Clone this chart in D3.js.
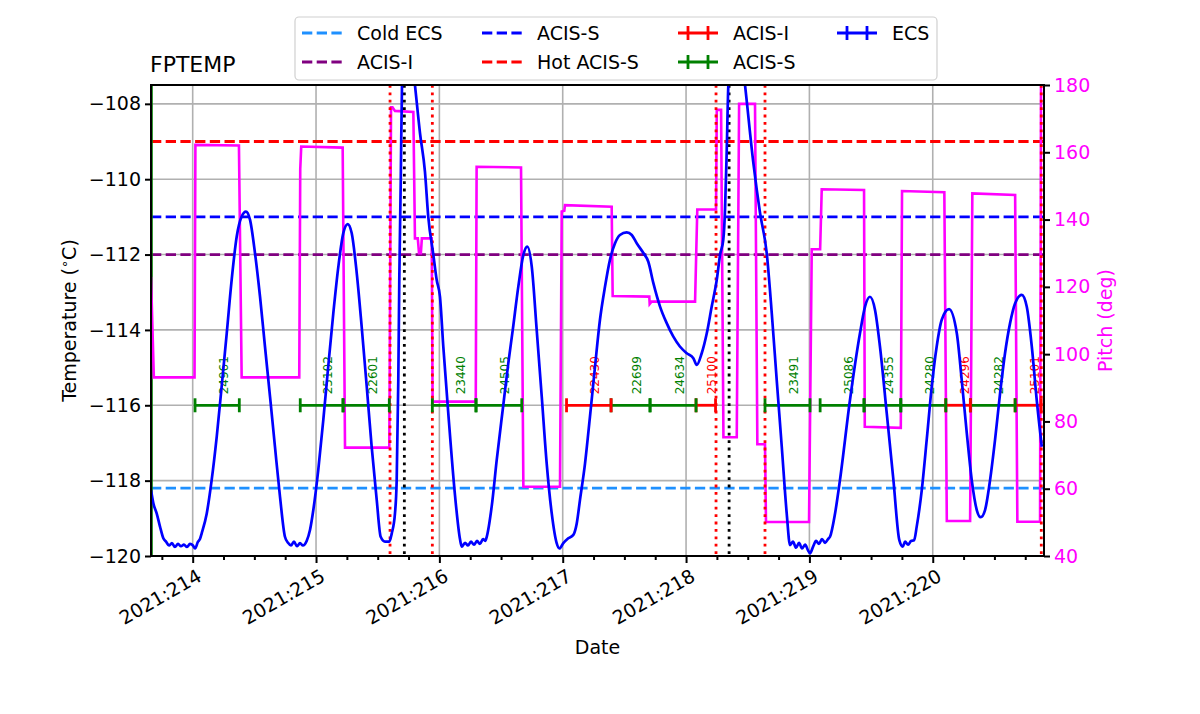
<!DOCTYPE html>
<html><head><meta charset="utf-8">
<script src="https://cdn.jsdelivr.net/npm/d3@7"></script>
<style>body{margin:0;background:#fff} svg{display:block} text{font-family:"DejaVu Sans",sans-serif}</style>
</head><body><svg id="c" width="1200" height="714"></svg>
<script>
// ---------- DATA ----------
const ecsDays = [213.662,213.681,213.708,213.735,213.762,213.784,213.808,213.832,213.856,213.881,213.905,213.929,213.954,213.978,214.002,214.019,214.043,214.059,
214.073,214.114,214.154,214.195,214.235,214.276,214.316,214.357,214.397,214.432,214.465,214.505,214.546,214.586,214.627,214.667,214.708,214.748,
214.773,214.797,214.821,214.846,214.870,214.894,214.924,214.951,214.978,215.018,215.059,215.099,215.140,215.181,215.221,215.257,215.289,215.330,
215.370,215.411,215.451,215.492,215.524,215.559,215.594,215.614,215.640,215.654,215.667,215.675,215.687,215.697,215.746,215.802,215.843,215.883,
215.910,215.951,215.978,216.005,216.032,216.072,216.127,216.167,216.181,216.208,216.232,216.256,216.281,216.305,216.329,216.354,216.372,216.384,
216.424,216.465,216.518,216.559,216.595,216.640,216.681,216.713,216.749,216.789,216.830,216.870,216.911,216.951,216.973,217.005,217.045,217.086,
217.114,217.140,217.181,217.221,217.262,217.302,217.343,217.383,217.424,217.464,217.519,217.560,217.600,217.654,217.694,217.735,217.789,217.843,
217.897,217.950,218.006,218.059,218.087,218.127,218.168,218.208,218.249,218.276,218.302,218.316,218.330,218.343,218.405,218.478,218.546,218.600,
218.654,218.695,218.735,218.776,218.816,218.843,218.867,218.892,218.916,218.940,218.965,218.989,219.005,219.030,219.054,219.078,219.102,219.127,
219.151,219.167,219.208,219.248,219.329,219.410,219.451,219.491,219.532,219.572,219.627,219.681,219.729,219.757,219.776,219.800,219.824,219.849,
219.870,219.911,219.951,219.992,220.032,220.073,220.132,220.195,220.235,220.276,220.316,220.357,220.389,220.424,220.465,220.505,220.546,220.586,
220.627,220.668,220.722,220.762,220.803,220.843,220.884];
const ecsTemps = [-118.25,-118.6,-118.87,-119.22,-119.53,-119.62,-119.72,-119.66,-119.76,-119.68,-119.74,-119.70,-119.76,-119.68,-119.72,-119.80,-119.62,-119.55,
-119.40,-118.87,-117.98,-116.83,-115.50,-114.09,-112.67,-111.52,-110.99,-110.86,-111.08,-111.96,-113.12,-114.44,-115.77,-117.10,-118.43,-119.49,
-119.65,-119.72,-119.62,-119.74,-119.66,-119.72,-119.60,-119.31,-118.78,-117.72,-116.39,-114.97,-113.56,-112.32,-111.43,-111.19,-111.43,-112.49,
-113.91,-115.50,-117.10,-118.51,-119.49,-119.62,-119.62,-119.40,-118.87,-117.98,-115.33,-112.67,-110.02,-107.5,-105.8,-107.5,-108.78,-109.8,
-111.0,-112.0,-112.67,-113.12,-114.45,-116.2,-118.4,-119.55,-119.75,-119.65,-119.72,-119.62,-119.70,-119.60,-119.68,-119.55,-119.60,-119.49,
-118.69,-117.45,-116.0,-114.88,-114.0,-112.85,-112.01,-111.79,-112.32,-114.0,-115.77,-117.54,-118.87,-119.66,-119.80,-119.66,-119.53,-119.44,
-119.13,-118.51,-117.54,-116.30,-114.97,-113.73,-112.85,-112.14,-111.70,-111.48,-111.41,-111.48,-111.70,-111.96,-112.19,-112.76,-113.38,-113.82,
-114.18,-114.44,-114.62,-114.75,-114.93,-114.62,-114.09,-113.38,-112.67,-112.0,-111.6,-110.8,-109.2,-107.5,-105.5,-107.5,-109.58,-110.9,
-111.96,-113.56,-115.33,-117.10,-118.87,-119.71,-119.62,-119.78,-119.65,-119.80,-119.70,-119.85,-119.93,-119.75,-119.60,-119.68,-119.55,-119.65,
-119.55,-119.49,-118.87,-117.98,-115.86,-114.09,-113.38,-113.12,-113.47,-114.44,-116.21,-117.98,-119.58,-119.75,-119.62,-119.70,-119.60,-119.58,
-119.22,-118.25,-116.92,-115.50,-114.44,-113.73,-113.45,-114.09,-115.33,-116.74,-117.98,-118.78,-118.97,-118.78,-117.98,-116.92,-115.68,-114.62,
-113.82,-113.29,-113.07,-113.38,-114.44,-115.86,-117.10];

const pitchDays = [213.662,213.685,214.015,214.022,214.375,214.397,214.864,214.872,214.880,215.216,215.235,215.594,215.608,215.620,215.640,215.789,
215.802,215.825,215.835,215.850,215.858,215.938,215.945,216.295,216.302,216.662,216.681,216.978,216.992,217.013,217.018,217.397,217.405,217.702,
217.705,217.720,218.073,218.091,218.243,218.249,218.284,218.303,218.411,218.430,218.559,218.578,218.640,218.648,218.997,219.019,219.087,219.100,
219.443,219.449,219.741,219.751,220.094,220.114,220.303,220.321,220.668,220.686,220.870,220.878];
const pitchVals = [123,93.1,93.1,162.2,162.0,93.1,93.1,155,161.7,161.4,72.2,72.2,173.4,173.4,172.3,172.0,
134.4,134.4,130.0,130.0,134.4,134.4,85.9,85.9,155.7,155.5,60.6,60.6,142.4,142.6,144.3,143.8,117.3,117.1,
114.9,115.6,115.6,143.0,143.0,172.6,172.6,75.3,75.3,174.4,174.4,73.2,73.2,50.1,50.1,131.2,131.2,149.0,
148.8,78.4,78.1,148.5,148.1,50.4,50.4,147.8,147.3,50.2,50.2,185];

const obsids   = ["24961","25102","22601","23440","24505","22430","22699","24634","25100","23491","25086","24355","24280","24296","24282","25101"];
const obsStart = [214.019,214.872,215.219,215.943,216.297,217.031,217.392,217.708,218.081,218.640,219.087,219.443,219.741,220.106,220.305,220.668];
const obsEnd   = [214.378,215.219,215.594,216.297,216.668,217.392,217.708,218.081,218.239,219.005,219.443,219.741,220.106,220.305,220.668,220.879];
const obsInstr = ["S","S","S","S","S","I","S","S","I","S","S","S","S","I","S","I"];
const obsLevel = -116;

const limitNames  = ["Cold ECS","ACIS-I","ACIS-S","Hot ACIS-S"];
const limitValues = [-118.2,-112,-111,-109];

const redDotDays   = [215.600,215.943,218.243,218.640,220.880];
const blackDotDays = [215.716,218.349];
const greenLineDays = [213.666];

const xTicks = [214,215,216,217,218,219,220];
const yTicks = [-120,-118,-116,-114,-112,-110,-108];
const pitchTicks = [40,60,80,100,120,140,160,180];

// ---------- LAYOUT ----------
const L=151,R=1044,T=85,B=556;
const svg=d3.select("#c");
const x=d3.scaleLinear().domain([213.662,220.902]).range([L,R]);
const y=d3.scaleLinear().domain([-120,-107.5]).range([B,T]);
const yp=d3.scaleLinear().domain([40,180]).range([B,T]);
const limitColor={"Cold ECS":"#1e90ff","ACIS-I":"#800080","ACIS-S":"#0000ff","Hot ACIS-S":"#ff0000"};
const instrColor={"S":"#008000","I":"#ff0000"};

svg.append("defs").append("clipPath").attr("id","clip").append("rect")
  .attr("x",L).attr("y",T).attr("width",R-L).attr("height",B-T);

// grid
const grid=svg.append("g");
grid.selectAll("line.gx").data(xTicks).join("line").attr("class","gx")
  .attr("x1",d=>x(d)).attr("x2",d=>x(d)).attr("y1",T).attr("y2",B)
  .attr("stroke","#b0b0b0").attr("stroke-width",1.6);
grid.selectAll("line.gy").data(yTicks).join("line").attr("class","gy")
  .attr("x1",L).attr("x2",R).attr("y1",d=>y(d)).attr("y2",d=>y(d))
  .attr("stroke","#b0b0b0").attr("stroke-width",1.6);

const plot=svg.append("g").attr("clip-path","url(#clip)");

// limit lines
plot.selectAll("line.lim").data(limitValues).join("line").attr("class","lim")
  .attr("x1",L).attr("x2",R).attr("y1",d=>y(d)).attr("y2",d=>y(d))
  .attr("stroke",(d,i)=>limitColor[limitNames[i]]).attr("stroke-width",2.8)
  .attr("stroke-dasharray","10.3,4.4");

// green line at left
plot.selectAll("line.gl").data(greenLineDays).join("line").attr("class","gl")
  .attr("x1",d=>x(d)).attr("x2",d=>x(d)).attr("y1",T).attr("y2",B)
  .attr("stroke","#008000").attr("stroke-width",2.6);

// pitch
const pitchData=pitchDays.map((d,i)=>[d,pitchVals[i]]);
plot.append("path").datum(pitchData)
  .attr("d",d3.line().x(d=>x(d[0])).y(d=>yp(d[1])))
  .attr("fill","none").attr("stroke","#ff00ff").attr("stroke-width",2.6);

// dotted verticals
plot.selectAll("line.rd").data(redDotDays).join("line").attr("class","rd")
  .attr("x1",d=>x(d)).attr("x2",d=>x(d)).attr("y1",T).attr("y2",B)
  .attr("stroke","#ff0000").attr("stroke-width",2.8).attr("stroke-dasharray","2.8,4.6");
plot.selectAll("line.bd").data(blackDotDays).join("line").attr("class","bd")
  .attr("x1",d=>x(d)).attr("x2",d=>x(d)).attr("y1",T).attr("y2",B)
  .attr("stroke","#000").attr("stroke-width",2.8).attr("stroke-dasharray","2.8,4.6");

// obsid bars
const obs=obsids.map((o,i)=>({o,s:obsStart[i],e:obsEnd[i],c:instrColor[obsInstr[i]]}));
const og=plot.append("g");
og.selectAll("line.ob").data(obs).join("line").attr("class","ob")
  .attr("x1",d=>x(d.s)).attr("x2",d=>x(d.e)).attr("y1",y(obsLevel)).attr("y2",y(obsLevel))
  .attr("stroke",d=>d.c).attr("stroke-width",2.8);
og.selectAll("line.cs").data(obs).join("line").attr("class","cs")
  .attr("x1",d=>x(d.s)).attr("x2",d=>x(d.s)).attr("y1",y(obsLevel)-7).attr("y2",y(obsLevel)+7)
  .attr("stroke",d=>d.c).attr("stroke-width",2.8);
og.selectAll("line.ce").data(obs).join("line").attr("class","ce")
  .attr("x1",d=>x(d.e)).attr("x2",d=>x(d.e)).attr("y1",y(obsLevel)-7).attr("y2",y(obsLevel)+7)
  .attr("stroke",d=>d.c).attr("stroke-width",2.8);
og.selectAll("text.ol").data(obs).join("text").attr("class","ol")
  .attr("transform",d=>`translate(${x((d.s+d.e)/2)+10.5},${y(obsLevel)-11}) rotate(-90)`)
  .attr("fill",d=>d.c).attr("font-size","12px").text(d=>d.o);

// ECS
const ecsData=ecsDays.map((d,i)=>[d,ecsTemps[i]]);
plot.append("path").datum(ecsData)
  .attr("d",d3.line().x(d=>x(d[0])).y(d=>y(d[1])).curve(d3.curveMonotoneX))
  .attr("fill","none").attr("stroke","#0000ff").attr("stroke-width",2.7);

// axes
const fs="19px";
const xa=svg.append("g").attr("transform",`translate(0,${B})`)
  .call(d3.axisBottom(x).tickValues(xTicks).tickFormat(d=>"2021:"+d).tickSize(7).tickSizeOuter(0));
const minor=[];
for(let d=213.75; d<220.9; d+=0.25){ if(Math.abs(d-Math.round(d))>1e-6) minor.push(d); }
const xm=svg.append("g").attr("transform",`translate(0,${B})`)
  .call(d3.axisBottom(x).tickValues(minor).tickFormat("").tickSize(4).tickSizeOuter(0));
xa.selectAll("text").attr("x",0).attr("y",0).attr("dy","0.72em")
  .attr("transform","translate(3,12) rotate(-30)").attr("text-anchor","end").attr("font-size",fs).attr("fill","#000");
const ya=svg.append("g").attr("transform",`translate(${L},0)`)
  .call(d3.axisLeft(y).tickValues(yTicks).tickSize(6).tickPadding(4).tickSizeOuter(0));
ya.selectAll("text").attr("font-size",fs).attr("fill","#000");
const yr=svg.append("g").attr("transform",`translate(${R},0)`)
  .call(d3.axisRight(yp).tickValues(pitchTicks).tickSize(6).tickPadding(4).tickSizeOuter(0));
yr.selectAll("text").attr("font-size",fs).attr("fill","#ff00ff");
[xa,xm,ya,yr].forEach(a=>{a.select(".domain").remove(); a.selectAll("line").attr("stroke","#000").attr("stroke-width",2); a.attr("font-family",null);});

// frame
svg.append("rect").attr("x",L).attr("y",T).attr("width",R-L).attr("height",B-T)
  .attr("fill","none").attr("stroke","#000").attr("stroke-width",2);

// labels
svg.append("text").attr("x",150).attr("y",72).attr("font-size","22px").text("FPTEMP");
svg.append("text").attr("x",(L+R)/2).attr("y",654).attr("text-anchor","middle").attr("font-size",fs).text("Date");
const tl=svg.append("text").attr("transform",`translate(76,${(T+B)/2}) rotate(-90)`).attr("text-anchor","middle").attr("font-size",fs);
tl.append("tspan").text("Temperature (");
tl.append("tspan").attr("font-size","13px").attr("dy","-7").text("\u2218");
tl.append("tspan").attr("dy","7").text("C)");
svg.append("text").attr("transform",`translate(1112,${(T+B)/2}) rotate(-90)`).attr("text-anchor","middle")
  .attr("font-size",fs).attr("fill","#ff00ff").text("Pitch (deg)");

// legend
const lg=svg.append("g");
lg.append("rect").attr("x",295).attr("y",17).attr("width",642).attr("height",63).attr("rx",4)
  .attr("fill","#fff").attr("fill-opacity",0.8).attr("stroke","#d0d0d0").attr("stroke-width",1.2);
const legItems=[
  {t:"Cold ECS",c:limitColor["Cold ECS"],k:"dash",hx:302,tx:357,ry:33},
  {t:"ACIS-I",c:limitColor["ACIS-I"],k:"dash",hx:302,tx:357,ry:62},
  {t:"ACIS-S",c:limitColor["ACIS-S"],k:"dash",hx:482,tx:537,ry:33},
  {t:"Hot ACIS-S",c:limitColor["Hot ACIS-S"],k:"dash",hx:482,tx:537,ry:62},
  {t:"ACIS-I",c:instrColor.I,k:"err",hx:678,tx:733,ry:33},
  {t:"ACIS-S",c:instrColor.S,k:"err",hx:678,tx:733,ry:62},
  {t:"ECS",c:"#0000ff",k:"err",hx:837,tx:892,ry:33}];
legItems.forEach(it=>{
  if(it.k==="dash"){
    lg.append("line").attr("x1",it.hx).attr("x2",it.hx+40).attr("y1",it.ry).attr("y2",it.ry)
      .attr("stroke",it.c).attr("stroke-width",2.8).attr("stroke-dasharray","10.3,4.4");
  } else {
    lg.append("line").attr("x1",it.hx).attr("x2",it.hx+40).attr("y1",it.ry).attr("y2",it.ry)
      .attr("stroke",it.c).attr("stroke-width",2.8);
    [it.hx+10,it.hx+30].forEach(cx=>lg.append("line").attr("x1",cx).attr("x2",cx)
      .attr("y1",it.ry-7).attr("y2",it.ry+7).attr("stroke",it.c).attr("stroke-width",2.8));
  }
  lg.append("text").attr("x",it.tx).attr("y",it.ry).attr("dy","0.36em").attr("font-size",fs).text(it.t);
});
</script></body></html>
